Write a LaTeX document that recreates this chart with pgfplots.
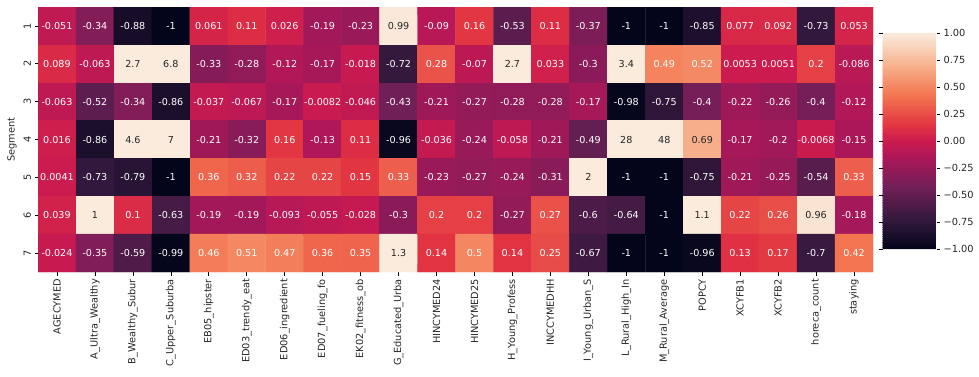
\documentclass[border=0pt]{standalone}
\usepackage{pgfplots}
\usepackage{pgfplotstable}
\pgfplotsset{compat=1.18}
\usepackage{fontspec}
\setmainfont{DejaVu Sans}
\definecolor{txtdk}{RGB}{38,38,38}
\pgfplotstableread[row sep=\\]{
x y v d\\
0 1 -0.051 0\\ 1 1 -0.34 0\\ 2 1 -0.88 0\\ 3 1 -1 0\\ 4 1 0.061 0\\ 5 1 0.11 0\\ 6 1 0.026 0\\ 7 1 -0.19 0\\ 8 1 -0.23 0\\ 9 1 0.99 1\\ 10 1 -0.09 0\\ 11 1 0.16 0\\ 12 1 -0.53 0\\ 13 1 0.11 0\\ 14 1 -0.37 0\\ 15 1 -1 0\\ 16 1 -1 0\\ 17 1 -0.85 0\\ 18 1 0.077 0\\ 19 1 0.092 0\\ 20 1 -0.73 0\\ 21 1 0.053 0\\
0 2 0.089 0\\ 1 2 -0.063 0\\ 2 2 2.7 1\\ 3 2 6.8 1\\ 4 2 -0.33 0\\ 5 2 -0.28 0\\ 6 2 -0.12 0\\ 7 2 -0.17 0\\ 8 2 -0.018 0\\ 9 2 -0.72 0\\ 10 2 0.28 0\\ 11 2 -0.07 0\\ 12 2 2.7 1\\ 13 2 0.033 0\\ 14 2 -0.3 0\\ 15 2 3.4 1\\ 16 2 0.49 0\\ 17 2 0.52 0\\ 18 2 0.0053 0\\ 19 2 0.0051 0\\ 20 2 0.2 0\\ 21 2 -0.086 0\\
0 3 -0.063 0\\ 1 3 -0.52 0\\ 2 3 -0.34 0\\ 3 3 -0.86 0\\ 4 3 -0.037 0\\ 5 3 -0.067 0\\ 6 3 -0.17 0\\ 7 3 -0.0082 0\\ 8 3 -0.046 0\\ 9 3 -0.43 0\\ 10 3 -0.21 0\\ 11 3 -0.27 0\\ 12 3 -0.28 0\\ 13 3 -0.28 0\\ 14 3 -0.17 0\\ 15 3 -0.98 0\\ 16 3 -0.75 0\\ 17 3 -0.4 0\\ 18 3 -0.22 0\\ 19 3 -0.26 0\\ 20 3 -0.4 0\\ 21 3 -0.12 0\\
0 4 0.016 0\\ 1 4 -0.86 0\\ 2 4 4.6 1\\ 3 4 7 1\\ 4 4 -0.21 0\\ 5 4 -0.32 0\\ 6 4 0.16 0\\ 7 4 -0.13 0\\ 8 4 0.11 0\\ 9 4 -0.96 0\\ 10 4 -0.036 0\\ 11 4 -0.24 0\\ 12 4 -0.058 0\\ 13 4 -0.21 0\\ 14 4 -0.49 0\\ 15 4 28 1\\ 16 4 48 1\\ 17 4 0.69 1\\ 18 4 -0.17 0\\ 19 4 -0.2 0\\ 20 4 -0.0068 0\\ 21 4 -0.15 0\\
0 5 0.0041 0\\ 1 5 -0.73 0\\ 2 5 -0.79 0\\ 3 5 -1 0\\ 4 5 0.36 0\\ 5 5 0.32 0\\ 6 5 0.22 0\\ 7 5 0.22 0\\ 8 5 0.15 0\\ 9 5 0.33 0\\ 10 5 -0.23 0\\ 11 5 -0.27 0\\ 12 5 -0.24 0\\ 13 5 -0.31 0\\ 14 5 2 1\\ 15 5 -1 0\\ 16 5 -1 0\\ 17 5 -0.75 0\\ 18 5 -0.21 0\\ 19 5 -0.25 0\\ 20 5 -0.54 0\\ 21 5 0.33 0\\
0 6 0.039 0\\ 1 6 1 1\\ 2 6 0.1 0\\ 3 6 -0.63 0\\ 4 6 -0.19 0\\ 5 6 -0.19 0\\ 6 6 -0.093 0\\ 7 6 -0.055 0\\ 8 6 -0.028 0\\ 9 6 -0.3 0\\ 10 6 0.2 0\\ 11 6 0.2 0\\ 12 6 -0.27 0\\ 13 6 0.27 0\\ 14 6 -0.6 0\\ 15 6 -0.64 0\\ 16 6 -1 0\\ 17 6 1.1 1\\ 18 6 0.22 0\\ 19 6 0.26 0\\ 20 6 0.96 1\\ 21 6 -0.18 0\\
0 7 -0.024 0\\ 1 7 -0.35 0\\ 2 7 -0.59 0\\ 3 7 -0.99 0\\ 4 7 0.46 0\\ 5 7 0.51 0\\ 6 7 0.47 0\\ 7 7 0.36 0\\ 8 7 0.35 0\\ 9 7 1.3 1\\ 10 7 0.14 0\\ 11 7 0.5 0\\ 12 7 0.14 0\\ 13 7 0.25 0\\ 14 7 -0.67 0\\ 15 7 -1 0\\ 16 7 -1 0\\ 17 7 -0.96 0\\ 18 7 0.13 0\\ 19 7 0.17 0\\ 20 7 -0.7 0\\ 21 7 0.42 0\\
}\datatable
\begin{document}
\begin{tikzpicture}
\useasboundingbox (0,0) rectangle (979pt,376pt);
\begin{axis}[
  at={(38pt,104pt)}, anchor=south west,
  scale only axis, width=835pt, height=265pt,
  xmin=-0.5, xmax=21.5, ymin=0.5, ymax=7.5,
  y dir=reverse, enlargelimits=false,
  axis line style={draw=none},
  tick align=outside, tick pos=left,
  major tick length=3.5pt,
  tick style={color=black, line width=0.6pt},
  xtick={0,...,21},
  xticklabels={AGECYMED, A\_Ultra\_Wealthy, B\_Wealthy\_Subur, C\_Upper\_Suburba, EB05\_hipster, ED03\_trendy\_eat, ED06\_ingredient, ED07\_fueling\_fo, EK02\_fitness\_ob, G\_Educated\_Urba, HINCYMED24, HINCYMED25, H\_Young\_Profess, INCCYMEDHH, I\_Young\_Urban\_S, L\_Rural\_High\_In, M\_Rural\_Average, POPCY, XCYFB1, XCYFB2, horeca\_count, staying},
  xticklabel style={rotate=90, anchor=east, font=\fontsize{9.8}{11}\selectfont, text=txtdk},
  ytick={1,...,7}, yticklabels={1,2,3,4,5,6,7},
  yticklabel style={rotate=90, anchor=south, font=\fontsize{9.8}{11}\selectfont, text=txtdk},
  ylabel={Segment}, ylabel style={font=\fontsize{9.8}{11}\selectfont, text=txtdk},
  colormap={rocket}{rgb255(0pt)=(3,5,26) rgb255(1pt)=(53,25,62) rgb255(2pt)=(112,31,87) rgb255(3pt)=(173,23,89) rgb255(3.5pt)=(203,27,79) rgb255(4pt)=(225,51,66) rgb255(5pt)=(243,118,81) rgb255(6pt)=(246,180,143) rgb255(7pt)=(250,235,221)},
  point meta min=-1, point meta max=1,
  colorbar sampled,
  colorbar style={
    at={(parent axis.east)}, anchor=west, xshift=1pt, yshift=-1.5pt,
    scale only axis, width=54pt, height=216pt,
    samples=120,
    axis line style={draw=none},
    tick align=outside, major tick length=3.5pt,
    tick style={color=black, line width=0.6pt},
    ytick={-1,-0.75,-0.5,-0.25,0,0.25,0.5,0.75,1},
    yticklabels={−1.00,−0.75,−0.50,−0.25,0.00,0.25,0.50,0.75,1.00},
    yticklabel style={font=\fontsize{9.8}{11}\selectfont, text=txtdk},
  },
]
\addplot[matrix plot*, mesh/cols=22, mesh/rows=7, point meta={min(1,max(-1,\thisrow{v}))}] table[x=x, y=y] \datatable;
\addplot[draw=none, mark=none, point meta=explicit symbolic,
  visualization depends on={\thisrow{d} \as \dk},
  nodes near coords={\ifdim\dk pt>0.5pt \color{txtdk}\fi\pgfplotspointmeta},
  every node near coord/.append style={anchor=center, text=white, font=\fontsize{9.6}{11}\selectfont, inner sep=0pt}
] table[x=x, y=y, meta=v] \datatable;
\end{axis}
\end{tikzpicture}
\end{document}
